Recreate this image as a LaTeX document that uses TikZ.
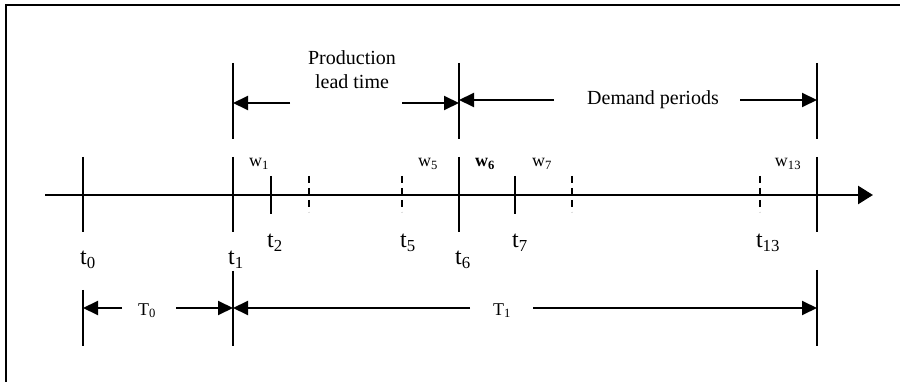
\documentclass[tikz,border=0pt]{standalone}
\usepackage{fontspec}
\setmainfont{Liberation Serif}
\usetikzlibrary{arrows.meta}
\begin{document}
\begin{tikzpicture}[x=1pt,y=-1pt,
  frameline/.style={line width=2.4pt},
  axisline/.style={line width=2.6pt,-{Triangle[length=15pt,width=18pt]}},
  tickline/.style={line width=2pt},
  dashtick/.style={line width=2pt,dash pattern=on 7pt off 5pt},
  dimarrow/.style={line width=2pt,-{Triangle[length=15pt,width=14pt]}},
  tlab/.style={inner sep=0pt,anchor=base,font=\fontsize{24}{26}\selectfont},
  wlab/.style={inner sep=0pt,anchor=base,font=\fontsize{18}{20}\selectfont},
  Tlab/.style={inner sep=0pt,anchor=base,font=\fontsize{18}{20}\selectfont},
  captext/.style={inner sep=0pt,anchor=base,font=\fontsize{20}{24}\selectfont,align=center}
]
\useasboundingbox (0,0) rectangle (900,382);
% frame
\coordinate (fbl) at (6,390);
\coordinate (ftl) at (6,5);
\coordinate (ftr) at (905,5);
\draw[frameline] (fbl) -- (ftl) -- (ftr);
% axis
\coordinate (ax0) at (45,195);
\coordinate (ax1) at (873,195);
\draw[axisline] (ax0) -- (ax1);
% full ticks
\foreach \n/\x in {t0/83,t1/233,t6/459,t13/817}{
  \coordinate (\n a) at (\x,157);
  \coordinate (\n b) at (\x,232);
  \draw[tickline] (\n a) -- (\n b);
}
% short ticks
\foreach \n/\x in {t2/271,t7/515}{
  \coordinate (\n a) at (\x,176);
  \coordinate (\n b) at (\x,214);
  \draw[tickline] (\n a) -- (\n b);
}
% dashed ticks
\foreach \n/\x in {d1/309,d2/402,d3/572,d4/760}{
  \coordinate (\n a) at (\x,176);
  \coordinate (\n b) at (\x,212);
  \draw[dashtick] (\n a) -- (\n b);
}
% upper long lines
\foreach \n/\x in {u1/233,u6/459,u13/817}{
  \coordinate (\n a) at (\x,63);
  \coordinate (\n b) at (\x,139);
  \draw[tickline] (\n a) -- (\n b);
}
% lower long lines
\coordinate (l0a) at (83,290); \coordinate (l0b) at (83,346);
\coordinate (l1a) at (233,271); \coordinate (l1b) at (233,346);
\coordinate (l13a) at (817,270); \coordinate (l13b) at (817,346);
\draw[tickline] (l0a) -- (l0b);
\draw[tickline] (l1a) -- (l1b);
\draw[tickline] (l13a) -- (l13b);
% production lead time
\node[captext] (plt) at (352,89) {Production\\lead time};
\coordinate (p1) at (290,103); \coordinate (p1e) at (233,103);
\coordinate (p2) at (402,103); \coordinate (p2e) at (459,103);
\draw[dimarrow] (p1) -- (p1e);
\draw[dimarrow] (p2) -- (p2e);
% demand periods
\node[captext] (dp) at (653,105) {Demand periods};
\coordinate (q1) at (554,100); \coordinate (q1e) at (459,100);
\coordinate (q2) at (740,100); \coordinate (q2e) at (817,100);
\draw[dimarrow] (q1) -- (q1e);
\draw[dimarrow] (q2) -- (q2e);
% T0, T1
\node[Tlab] (T0) at (147,315) {T\textsubscript{0}};
\node[Tlab] (T1) at (502,315) {T\textsubscript{1}};
\coordinate (r1) at (122,308); \coordinate (r1e) at (83,308);
\coordinate (r2) at (176,308); \coordinate (r2e) at (233,308);
\coordinate (s1) at (470,308); \coordinate (s1e) at (233,308);
\coordinate (s2) at (533,308); \coordinate (s2e) at (817,308);
\draw[dimarrow] (r1) -- (r1e);
\draw[dimarrow] (r2) -- (r2e);
\draw[dimarrow] (s1) -- (s1e);
\draw[dimarrow] (s2) -- (s2e);
% w labels
\node[wlab] (w1) at (259,167) {w\textsubscript{1}};
\node[wlab] (w5) at (428,167) {w\textsubscript{5}};
\node[wlab] (w6) at (485,167) {\textbf{w\textsubscript{6}}};
\node[wlab] (w7) at (542,167) {w\textsubscript{7}};
\node[wlab] (w13) at (788,167) {w\textsubscript{13}};
% t labels
\node[tlab] (lt0) at (88,265) {t\textsubscript{0}};
\node[tlab] (lt1) at (236,265) {t\textsubscript{1}};
\node[tlab] (lt6) at (463,265) {t\textsubscript{6}};
\node[tlab] (lt2) at (275,248) {t\textsubscript{2}};
\node[tlab] (lt5) at (408,248) {t\textsubscript{5}};
\node[tlab] (lt7) at (520,248) {t\textsubscript{7}};
\node[tlab] (lt13) at (768,248) {t\textsubscript{13}};
\end{tikzpicture}
\end{document}
